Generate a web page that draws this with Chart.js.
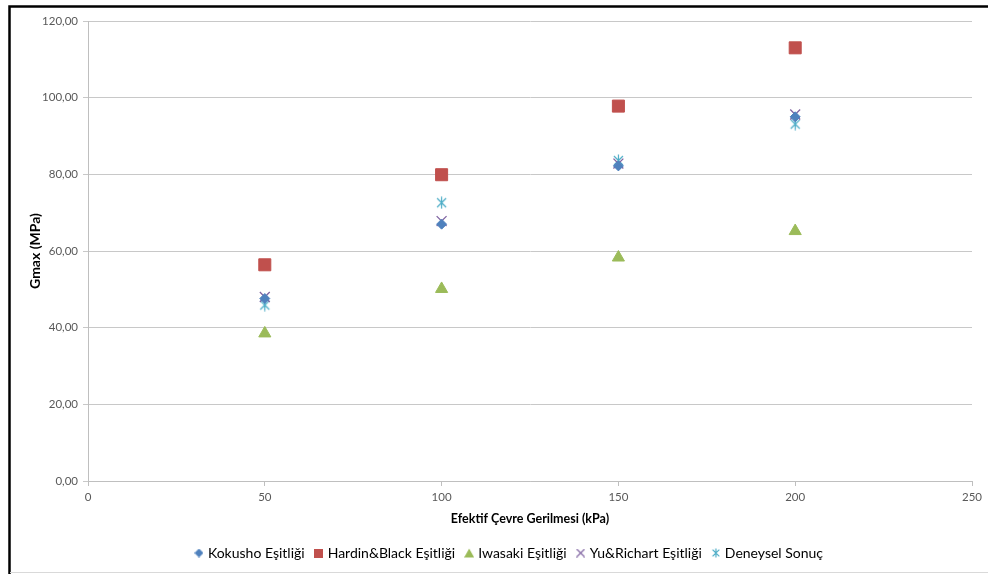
<!DOCTYPE html>
<html>
<head>
<meta charset="utf-8">
<script src="https://cdn.jsdelivr.net/npm/chart.js@4.4.1/dist/chart.umd.min.js"></script>
<style>
  html, body { margin: 0; padding: 0; background: #fff; }
  #wrap { width: 988px; height: 574px; position: relative; }
</style>
</head>
<body>
<div id="wrap"><canvas id="c" width="988" height="574"></canvas></div>
<script>
// Effective confining stress (kPa)
const stress = [50, 100, 150, 200];
// Gmax (MPa) by method
const kokusho = [47.6, 67.0, 82.2, 95.0];
const hardinBlack = [56.4, 79.9, 97.8, 113.0];
const iwasaki = [38.5, 50.1, 58.3, 65.2];
const yuRichart = [48.0, 67.8, 82.8, 95.6];
const deneysel = [45.9, 72.6, 83.6, 93.1];

const seriesNames = ['Kokusho Eşitliği', 'Hardin&Black Eşitliği', 'Iwasaki Eşitliği', 'Yu&Richart Eşitliği', 'Deneysel Sonuç'];
const yTicks = [0, 20, 40, 60, 80, 100, 120];
const xTicks = [0, 50, 100, 150, 200, 250];

const FONT = 'Lato, "Open Sans", sans-serif';
const COLORS = ['#4f81bd', '#c0504d', '#9bbb59', '#8064a2', '#4bacc6'];

// small marker images for the legend
function marker(kind, color, size) {
  const cv = document.createElement('canvas');
  cv.width = size; cv.height = size;
  const g = cv.getContext('2d');
  const h = size / 2;
  g.fillStyle = color; g.strokeStyle = color;
  g.beginPath();
  if (kind === 'diamond') {
    g.moveTo(h, 0); g.lineTo(size, h); g.lineTo(h, size); g.lineTo(0, h); g.closePath(); g.fill();
  } else if (kind === 'square') {
    g.fillRect(0, 0, size, size);
  } else if (kind === 'triangle') {
    g.moveTo(h, 0.5); g.lineTo(size, size - 0.5); g.lineTo(0, size - 0.5); g.closePath(); g.fill();
  } else if (kind === 'x') {
    g.lineWidth = 1.1;
    g.moveTo(0.5, 0.5); g.lineTo(size - 0.5, size - 0.5);
    g.moveTo(size - 0.5, 0.5); g.lineTo(0.5, size - 0.5); g.stroke();
  } else {
    g.lineWidth = 1.2;
    const r = h - 0.5, d = r * 0.75;
    g.moveTo(h - d, h - d); g.lineTo(h + d, h + d);
    g.moveTo(h + d, h - d); g.lineTo(h - d, h + d);
    g.moveTo(h, h - r); g.lineTo(h, h + r); g.stroke();
  }
  return cv;
}

const legendMarks = [
  marker('diamond', COLORS[0], 9),
  marker('square', COLORS[1], 9),
  marker('triangle', COLORS[2], 10),
  marker('x', COLORS[3], 9),
  marker('asterisk', COLORS[4], 10)
];

const pts = v => stress.map((x, i) => ({ x: x, y: v[i] }));

// outer frame of the figure, fixed legend band
const frame = {
  id: 'frame',
  beforeInit(chart) {
    const lg = chart.legend;
    if (lg) {
      const origFit = lg.fit;
      lg.fit = function () { origFit.call(this); this.height = 38; };
      const origDraw = lg.draw;
      lg.draw = function () {
        const ctx = this.ctx;
        ctx.save();
        ctx.translate(19, 4);
        origDraw.call(this);
        ctx.restore();
      };
    }
  },
  afterDraw(chart) {
    const ctx = chart.ctx;
    ctx.save();
    ctx.strokeStyle = '#000';
    ctx.lineWidth = 2.5;
    ctx.beginPath();
    ctx.moveTo(9.5, 574); ctx.lineTo(9.5, 6.5); ctx.lineTo(988, 6.5);
    ctx.stroke();
    ctx.strokeStyle = '#d9d9d9';
    ctx.lineWidth = 1;
    ctx.beginPath();
    ctx.moveTo(10, 572.5); ctx.lineTo(988, 572.5);
    ctx.stroke();
    ctx.restore();
  }
};

new Chart(document.getElementById('c'), {
  type: 'scatter',
  data: {
    datasets: [
      { label: seriesNames[0], data: pts(kokusho), pointStyle: 'rectRot', radius: 5, backgroundColor: COLORS[0], borderColor: COLORS[0], borderWidth: 1 },
      { label: seriesNames[1], data: pts(hardinBlack), pointStyle: 'rect', radius: 8.5, backgroundColor: COLORS[1], borderColor: COLORS[1], borderWidth: 1 },
      { label: seriesNames[2], data: pts(iwasaki), pointStyle: 'triangle', radius: 7, backgroundColor: COLORS[2], borderColor: COLORS[2], borderWidth: 1 },
      { label: seriesNames[3], data: pts(yuRichart), pointStyle: 'crossRot', radius: 7, backgroundColor: COLORS[3], borderColor: COLORS[3], borderWidth: 1.3 },
      { label: seriesNames[4], data: pts(deneysel), pointStyle: marker('asterisk', COLORS[4], 13), backgroundColor: COLORS[4], borderColor: COLORS[4] }
    ]
  },
  options: {
    responsive: false,
    animation: false,
    events: [],
    layout: { padding: { left: 10, right: 16, top: 21, bottom: 6 } },
    plugins: {
      tooltip: { enabled: false },
      legend: {
        position: 'bottom',
        labels: {
          usePointStyle: true,
          boxWidth: 4, boxHeight: 9,
          padding: 12,
          color: '#000',
          font: { family: FONT, size: 14 },
          generateLabels(chart) {
            const base = Chart.defaults.plugins.legend.labels.generateLabels(chart);
            base.forEach((l, i) => { l.pointStyle = legendMarks[i]; });
            return base;
          }
        }
      }
    },
    scales: {
      x: {
        type: 'linear', min: 0, max: 250,
        afterBuildTicks(s) { s.ticks = xTicks.map(v => ({ value: v })); },
        afterFit(s) { s.height = 49; },
        grid: { drawOnChartArea: false, color: '#bfbfbf', tickLength: 5, drawTicks: true },
        border: { color: '#bfbfbf' },
        ticks: { color: '#595959', font: { family: FONT, size: 11.5 }, padding: 4 },
        title: { display: true, text: 'Efektif Çevre Gerilmesi (kPa)', color: '#000', font: { family: FONT, size: 12.5, weight: 'bold' }, padding: { top: 7 } }
      },
      y: {
        type: 'linear', min: 0, max: 120,
        afterBuildTicks(s) { s.ticks = yTicks.map(v => ({ value: v })); },
        afterFit(s) { s.width = 78; },
        grid: { color: '#c8c8c8', tickLength: 5 },
        border: { color: '#bfbfbf' },
        ticks: {
          color: '#595959', font: { family: FONT, size: 11.5 }, padding: 5,
          callback: v => v.toFixed(2).replace('.', ',')
        },
        title: { display: true, text: 'Gmax (MPa)', color: '#000', font: { family: FONT, size: 14, weight: 'bold' }, padding: { top: 17, bottom: 0 } }
      }
    }
  },
  plugins: [frame]
});
</script>
</body>
</html>
